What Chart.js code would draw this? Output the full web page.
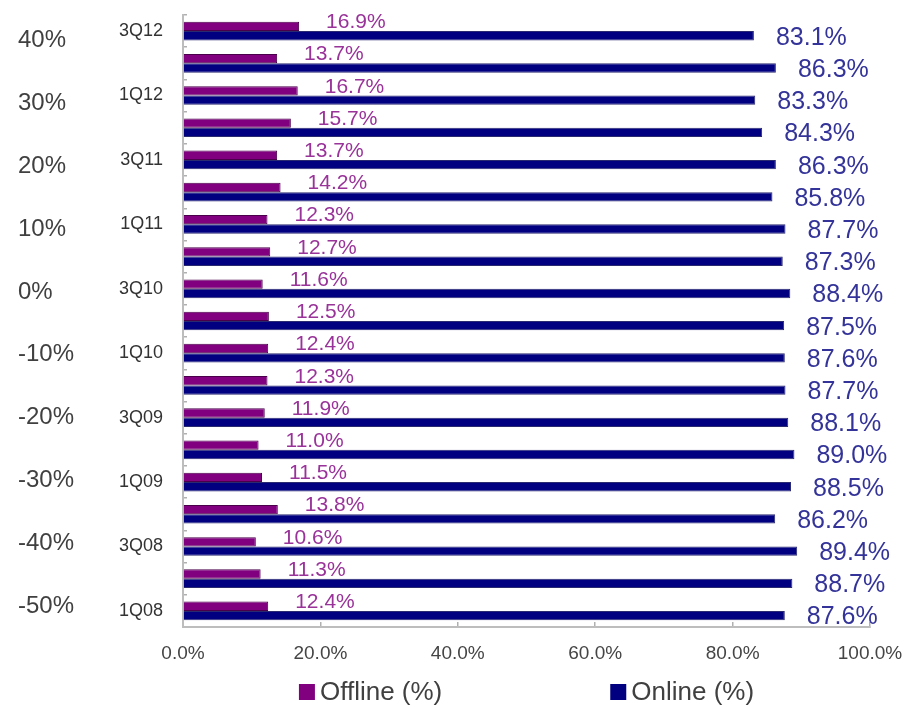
<!DOCTYPE html>
<html>
<head>
<meta charset="utf-8">
<script src="https://cdn.jsdelivr.net/npm/chart.js@4/dist/chart.umd.min.js"></script>
<style>
  html, body { margin: 0; padding: 0; background: #fff; }
  #wrap { width: 904px; height: 707px; position: relative; }
</style>
</head>
<body>
<div id="wrap"><canvas id="chart"></canvas></div>
<script>
// ── Data (chronological, oldest first) ───────────────────────────

const quarters = ['1Q08', '2Q08', '3Q08', '4Q08', '1Q09', '2Q09', '3Q09', '4Q09', '1Q10', '2Q10',
                  '3Q10', '4Q10', '1Q11', '2Q11', '3Q11', '4Q11', '1Q12', '2Q12', '3Q12'];
const offlinePct = [12.4, 11.3, 10.6, 13.8, 11.5, 11.0, 11.9, 12.3, 12.4, 12.5,
                    11.6, 12.7, 12.3, 14.2, 13.7, 15.7, 16.7, 13.7, 16.9];
const onlinePct = [87.6, 88.7, 89.4, 86.2, 88.5, 89.0, 88.1, 87.7, 87.6, 87.5,
                   88.4, 87.3, 87.7, 85.8, 86.3, 84.3, 83.3, 86.3, 83.1];
const shareTicks = [0, 20, 40, 60, 80, 100];
const leftAxisTicks = [-50, -40, -30, -20, -10, 0, 10, 20, 30, 40];

const FONT = "'Liberation Sans', Arial, sans-serif";
Chart.defaults.font.family = FONT;

// ── Value labels next to each bar ────────────────────────────────

const labelLook = [
    { size: 21, color: '#993399', dx: 27, dy: -4 },   // Offline
    { size: 25, color: '#333399', dx: 22, dy: 2 },    // Online
];

const valueLabels = {
    id: 'valueLabels',
    afterDatasetsDraw(chart) {
        const ctx = chart.ctx;
        ctx.save();
        ctx.textAlign = 'left';
        ctx.textBaseline = 'middle';
        chart.data.datasets.forEach((ds, di) => {
            const look = labelLook[di];
            ctx.font = `${look.size}px ${FONT}`;
            ctx.fillStyle = look.color;
            chart.getDatasetMeta(di).data.forEach((bar, i) => {
                ctx.fillText(ds.data[i].toFixed(1) + '%', bar.x + look.dx, bar.y + look.dy);
            });
        });
        ctx.restore();
    },
};

// ── Legend: two wide-spaced items centred under the plot ─────────

const spacedLegend = {
    id: 'spacedLegend',
    afterDraw(chart) {
        const ctx = chart.ctx;
        const area = chart.chartArea;
        const box = 16, boxGap = 5, itemGap = 168;
        ctx.save();
        ctx.font = `26px ${FONT}`;
        ctx.textBaseline = 'middle';
        ctx.textAlign = 'left';
        const items = chart.data.datasets.map(ds => ({
            text: ds.label,
            color: ds.backgroundColor,
            w: box + boxGap + ctx.measureText(ds.label).width,
        }));
        const total = items.reduce((s, it) => s + it.w, 0) + itemGap * (items.length - 1);
        let x = (area.left + area.right) / 2 - total / 2;
        const y = area.bottom + 65;
        for (const it of items) {
            ctx.fillStyle = it.color;
            ctx.fillRect(x, y - box / 2, box, box);
            ctx.fillStyle = '#404040';
            ctx.fillText(it.text, x + box + boxGap, y + 1);
            x += it.w + itemGap;
        }
        ctx.restore();
    },
};

// scale label overhang would otherwise be added on top of layout.padding
const noOverhang = (s) => {
    s.paddingTop = 0;
    s.paddingBottom = 0;
    s.paddingLeft = 0;
    s.paddingRight = 0;
};

// ── Chart ────────────────────────────────────────────────────────

new Chart(document.getElementById('chart'), {
    type: 'bar',
    plugins: [valueLabels, spacedLegend],
    data: {
        labels: quarters,
        datasets: [
            {
                label: 'Offline (%)',
                data: offlinePct,
                backgroundColor: '#800080',
                borderColor: '#4a004a',
                borderWidth: 1,
            },
            {
                label: 'Online (%)',
                data: onlinePct,
                backgroundColor: '#000080',
                borderColor: '#2a2a70',
                borderWidth: 1,
            },
        ],
    },
    options: {
        indexAxis: 'y',
        responsive: true,
        maintainAspectRatio: false,
        animation: false,
        categoryPercentage: 0.58,
        barPercentage: 1.0,
        layout: { padding: { left: 18, top: 15, right: 34, bottom: 35 } },
        plugins: {
            legend: { display: false },
            tooltip: { enabled: false },
        },
        scales: {
            x: {
                type: 'linear',
                position: 'bottom',
                min: 0,
                max: 100,
                afterBuildTicks: (s) => { s.ticks = shareTicks.map(v => ({ value: v })); },
                afterFit: (s) => { s.height = 45; noOverhang(s); },
                ticks: {
                    callback: (v) => v.toFixed(1) + '%',
                    font: { size: 19 },
                    color: '#454545',
                    padding: 20,
                    maxRotation: 0,
                },
                grid: { drawOnChartArea: false, tickLength: -5, color: '#b0b0b0', lineWidth: 1.5 },
                border: { color: '#bdbdbd', width: 2 },
            },
            y: {
                type: 'category',
                position: 'left',
                reverse: true,
                offset: true,
                weight: 0,
                afterFit: (s) => { s.width = 70; noOverhang(s); },
                ticks: {
                    autoSkip: false,
                    callback: (v) => (v % 2 === 0 ? quarters[v] : ''),
                    font: { size: 18 },
                    color: '#333',
                    padding: 24,
                },
                grid: { offset: true, drawOnChartArea: false, tickLength: -4, color: '#b0b0b0', lineWidth: 1.5 },
                border: { color: '#bdbdbd', width: 2 },
            },
            yLeft: {
                type: 'linear',
                position: 'left',
                weight: 1,
                offset: false,
                min: -53.3,
                max: 44.06,
                afterBuildTicks: (s) => { s.ticks = leftAxisTicks.map(v => ({ value: v })); },
                afterFit: (s) => { s.width = 95; noOverhang(s); },
                ticks: {
                    crossAlign: 'far',
                    callback: (v) => v + '%',
                    font: { size: 24 },
                    color: '#404040',
                    padding: 0,
                },
                grid: { display: false },
                border: { display: false },
            },
        },
    },
});
</script>
</body>
</html>
